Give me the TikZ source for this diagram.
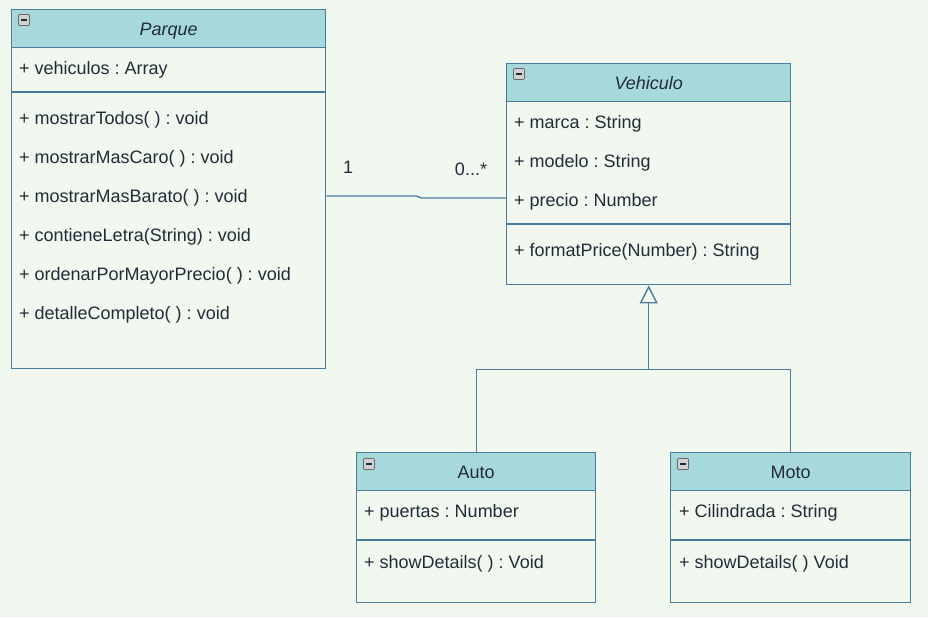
\documentclass[tikz,border=0pt]{standalone}
\usepackage{fontspec}
\setmainfont{Liberation Sans}
\usetikzlibrary{positioning,calc,arrows.meta}
\definecolor{bg}{HTML}{F1F8EF}
\definecolor{hdr}{HTML}{A7D8DB}
\definecolor{edge}{HTML}{4A7C9E}
\definecolor{ink}{HTML}{222C38}
\frenchspacing

\begin{document}
\begin{tikzpicture}[x=1pt,y=-1pt,font=\fontsize{18}{21}\selectfont,text=ink,
    classbox/.style={draw=edge,fill=bg,line width=1.4pt,anchor=north west,inner sep=0pt},
    headbox/.style={draw=edge,fill=hdr,line width=1.4pt,anchor=north west,inner sep=0pt,minimum height=38pt,text height=13pt,text depth=0pt},
    member/.style={anchor=west,inner sep=0pt,text height=13pt,text depth=0pt},
    icon/.style={draw=gray!80!black,fill=gray!35,rounded corners=1pt,line width=0.6pt,minimum size=11pt,inner sep=0pt,font=\tiny},
    link/.style={draw=edge,line width=1.4pt}]
    \fill[bg] (0,0) rectangle (928,618);

    % Parque
    \node[classbox,minimum width=314pt,minimum height=359pt] (parque) at (11,9) {};
    \node[headbox,minimum width=314pt] (parqueHead) at (parque.north west) {\textit{Parque}};
    \node[icon] (parqueIcon) at (24,20) {\rule{6pt}{1.6pt}};
    \draw[link] ($(parque.north west)+(0,83)$) -- ($(parque.north east)+(0,83)$);
    \node[member] (vehiculos) at (19,68) {+ vehiculos : Array};
    \node[member] (mostrarTodos) at (19,118) {+ mostrarTodos( ) : void};
    \node[member] (mostrarMasCaro) at (19,157) {+ mostrarMasCaro( ) : void};
    \node[member] (mostrarMasBarato) at (19,196) {+ mostrarMasBarato( ) : void};
    \node[member] (contieneLetra) at (19,235) {+ contieneLetra(String) : void};
    \node[member] (ordenar) at (19,274) {+ ordenarPorMayorPrecio( ) : void};
    \node[member] (detalle) at (19,313) {+ detalleCompleto( ) : void};

    % Vehiculo
    \node[classbox,minimum width=284pt,minimum height=221pt] (vehiculo) at (506,63) {};
    \node[headbox,minimum width=284pt] (vehiculoHead) at (vehiculo.north west) {\textit{Vehiculo}};
    \node[icon] (vehiculoIcon) at (519,74) {\rule{6pt}{1.6pt}};
    \draw[link] ($(vehiculo.north west)+(0,161)$) -- ($(vehiculo.north east)+(0,161)$);
    \node[member] (marca) at (514,122) {+ marca : String};
    \node[member] (modelo) at (514,161) {+ modelo : String};
    \node[member] (precio) at (514,200) {+ precio : Number};
    \node[member] (formatPrice) at (514,250) {+ formatPrice(Number) : String};

    % Auto
    \node[classbox,minimum width=239pt,minimum height=150pt] (auto) at (356,452) {};
    \node[headbox,minimum width=239pt] (autoHead) at (auto.north west) {Auto};
    \node[icon] (autoIcon) at (369,464) {\rule{6pt}{1.6pt}};
    \draw[link] ($(auto.north west)+(0,88)$) -- ($(auto.north east)+(0,88)$);
    \node[member] (puertas) at (364,511) {+ puertas : Number};
    \node[member] (autoDetails) at (364,562) {+ showDetails( ) : Void};

    % Moto
    \node[classbox,minimum width=240pt,minimum height=150pt] (moto) at (670,452) {};
    \node[headbox,minimum width=240pt] (motoHead) at (moto.north west) {Moto};
    \node[icon] (motoIcon) at (683,464) {\rule{6pt}{1.6pt}};
    \draw[link] ($(moto.north west)+(0,88)$) -- ($(moto.north east)+(0,88)$);
    \node[member] (cilindrada) at (679,511) {+ Cilindrada : String};
    \node[member] (motoDetails) at (679,562) {+ showDetails( ) Void};

    % Asociacion
    \draw[link] ($(parque.north east)+(0,187)$) -- ++(90,0) -- ++(5,2) -- ($(vehiculo.north west)+(0,135)$);
    \node[member,anchor=center] (multParque) at (348,167) {1};
    \node[member,anchor=center] (multVehiculo) at (471,169) {0...*};

    % Herencia
    \coordinate (joint) at ($(vehiculo.south)+(0,84)$);
    \draw[link] (auto.north) |- (joint);
    \draw[link] (moto.north) |- (joint);
    \draw[link,-{Triangle[open,width=18pt,length=18pt]}] (joint) -- (vehiculo.south);
\end{tikzpicture}
\end{document}
